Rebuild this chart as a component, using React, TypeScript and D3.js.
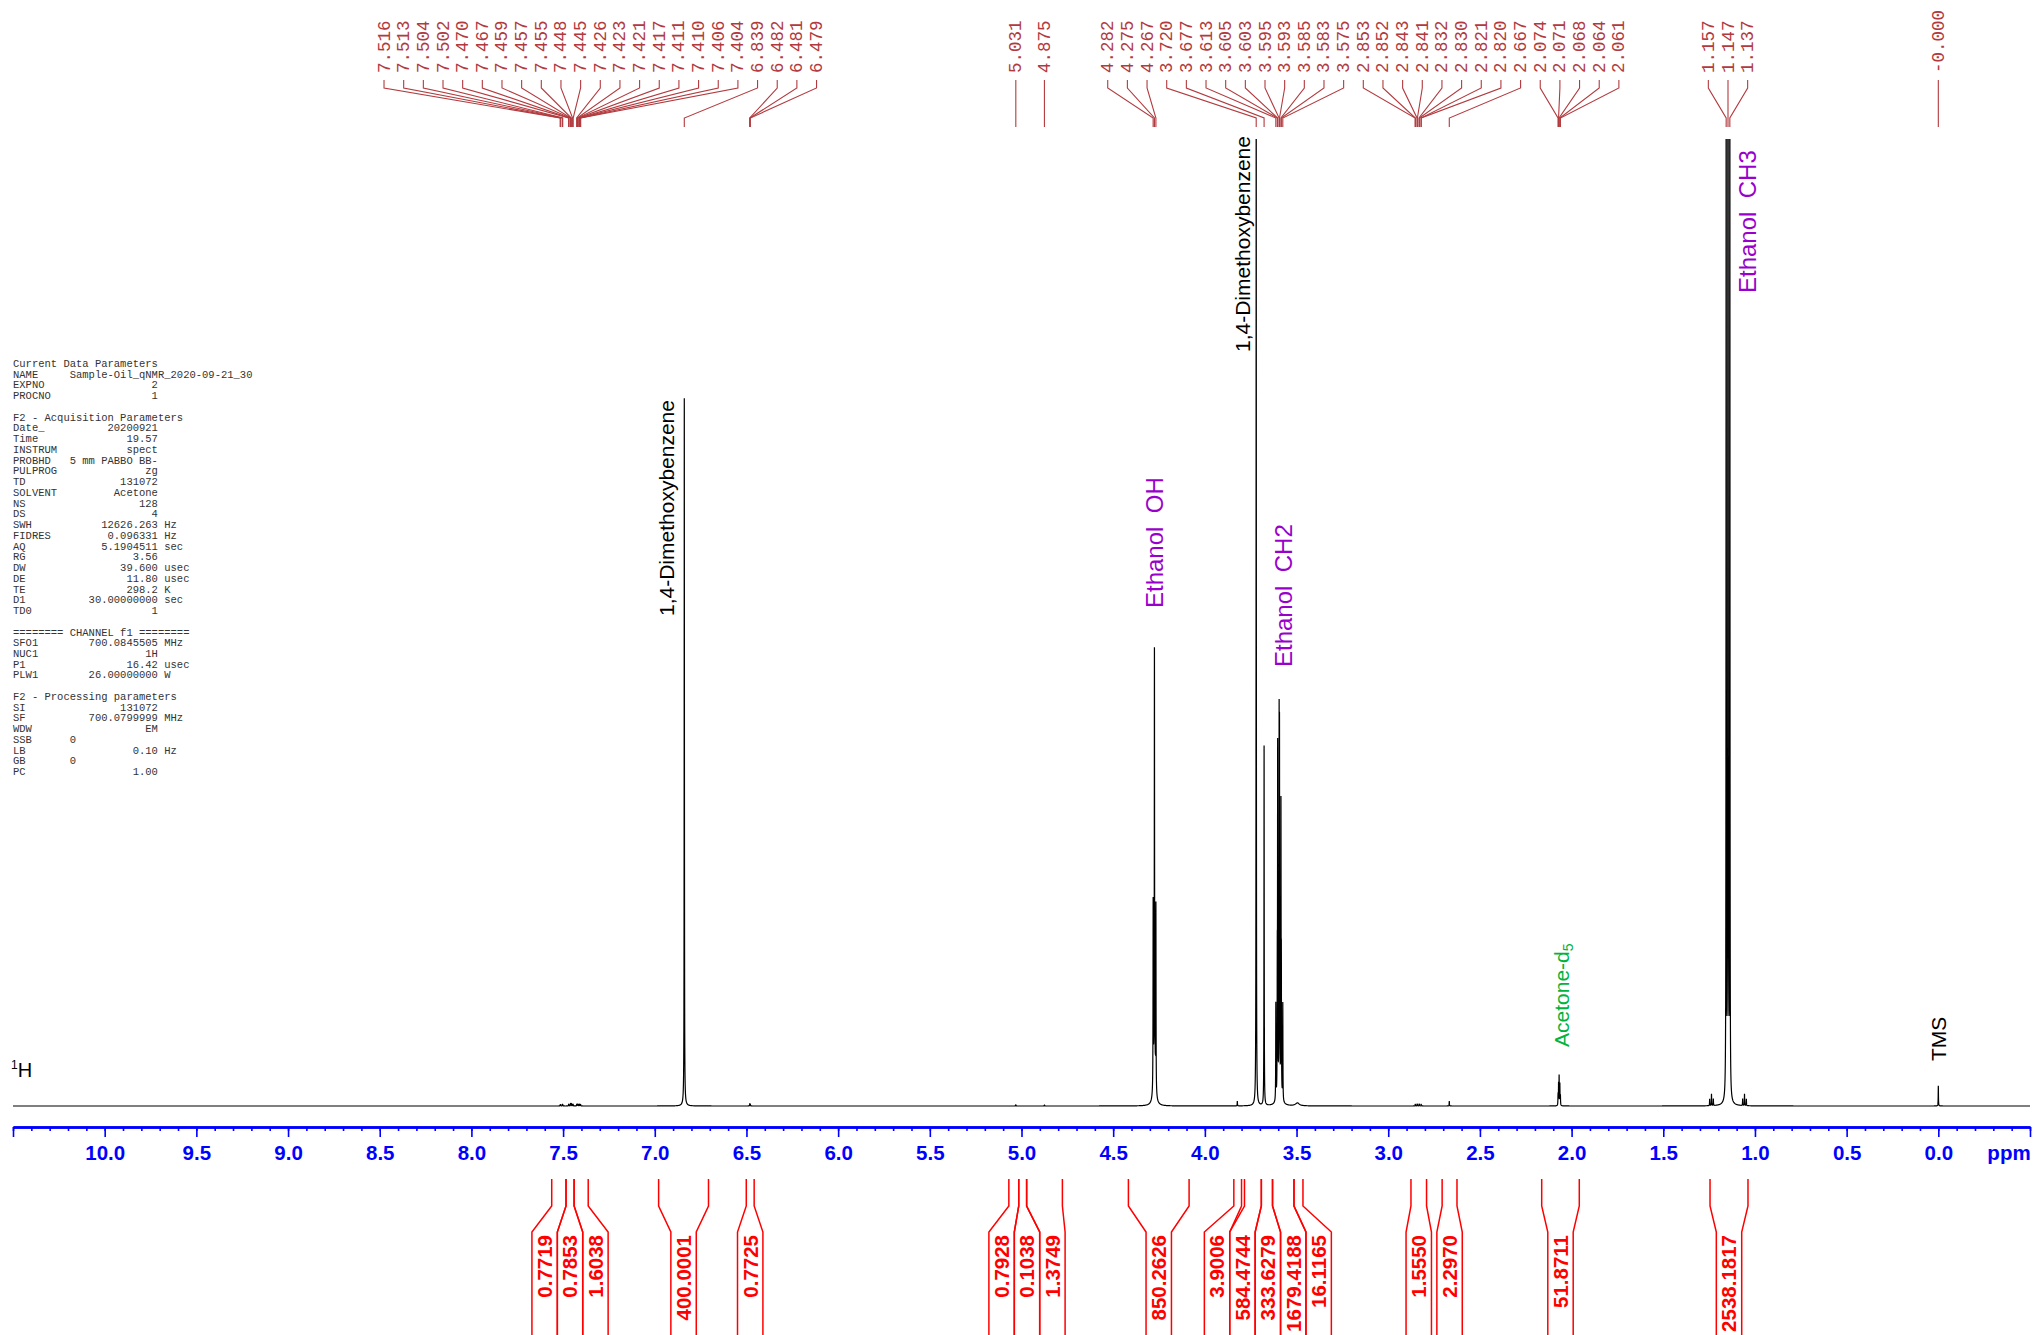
import React, { useEffect, useRef } from 'react';
import * as d3 from 'd3';

const width = 2042;
const height = 1335;

// spectral lines: chemical shift (ppm) and height (% of full scale)
const dmbPpm = [6.839, 3.72];
const dmbHeight = [72.6, 118];

const ethanolOhPpm = [4.282, 4.275, 4.267];
const ethanolOhHeight = [19, 41, 19];

const ethanolCh2Ppm = [3.613, 3.605, 3.603, 3.595, 3.593, 3.585, 3.583, 3.575];
const ethanolCh2Height = [10, 12, 35, 35.5, 34, 29, 12, 10];

const ethanolCh3Ppm = [1.157, 1.147, 1.137];
const ethanolCh3Height = [125, 250, 125];

const acetonePpm = [2.074, 2.071, 2.068, 2.064, 2.061];
const acetoneHeight = [1.0, 2.2, 3.0, 2.2, 1.0];

const otherPpm = [3.677, 0.0];
const otherHeight = [37.2, 2.1];

const minorPpm = [7.516, 7.513, 7.504, 7.502, 7.47, 7.467, 7.459, 7.457, 7.455, 7.448, 7.445,
  7.426, 7.423, 7.421, 7.417, 7.411, 7.41, 7.406, 7.404, 6.482, 6.481, 6.479, 5.031, 4.875,
  2.853, 2.852, 2.843, 2.841, 2.832, 2.83, 2.821, 2.82, 2.667, 3.823, 1.247, 1.237, 1.227,
  1.067, 1.057, 1.047];
const minorHeight = [0.12, 0.12, 0.15, 0.15, 0.15, 0.15, 0.2, 0.2, 0.2, 0.15, 0.15,
  0.15, 0.15, 0.15, 0.15, 0.12, 0.12, 0.12, 0.12, 0.15, 0.15, 0.15, 0.12, 0.1,
  0.12, 0.12, 0.15, 0.15, 0.15, 0.15, 0.12, 0.12, 0.5, 0.5, 0.7, 1.2, 0.7,
  0.7, 1.2, 0.7];

// broad parts (exchange broadened OH, humps)
const broadPpm = [4.275, 3.594, 3.495, 6.839];
const broadHeight = [6, 1.2, 0.3, 0.6];
const broadWidth = [0.005, 0.01, 0.012, 0.004];

// peak picking labels
const peakLabels = ['7.516', '7.513', '7.504', '7.502', '7.470', '7.467', '7.459', '7.457', '7.455',
  '7.448', '7.445', '7.426', '7.423', '7.421', '7.417', '7.411', '7.410', '7.406', '7.404', '6.839',
  '6.482', '6.481', '6.479', '5.031', '4.875', '4.282', '4.275', '4.267', '3.720', '3.677', '3.613',
  '3.605', '3.603', '3.595', '3.593', '3.585', '3.583', '3.575', '2.853', '2.852', '2.843', '2.841',
  '2.832', '2.830', '2.821', '2.820', '2.667', '2.074', '2.071', '2.068', '2.064', '2.061', '1.157',
  '1.147', '1.137', '-0.000'];

// integral regions
const integralFrom = [7.562, 7.484, 7.44, 6.979, 6.501, 5.069, 5.015, 4.972, 4.417, 3.842, 3.784,
  3.692, 3.631, 3.514, 2.876, 2.706, 2.163, 1.245];
const integralTo = [7.484, 7.44, 7.363, 6.707, 6.458, 5.015, 4.972, 4.777, 4.086, 3.8, 3.692,
  3.631, 3.514, 3.465, 2.791, 2.625, 1.958, 1.038];
const integralValue = ['0.7719', '0.7853', '1.6038', '400.0001', '0.7725', '0.7928', '0.1038',
  '1.3749', '850.2626', '3.9006', '584.4744', '333.6279', '1679.4188', '16.1165', '1.5550',
  '2.2970', '51.8711', '2538.1817'];

const majorTicks = d3.range(0, 23).map(i => 10.5 - i * 0.5);
const minorTicks = d3.range(-5, 106).map(i => i / 10);

const r = (label, value, unit = '') => label.padEnd(23 - value.length) + value + (unit ? ' ' + unit : '');
const paramLines = [
  'Current Data Parameters',
  'NAME     Sample-Oil_qNMR_2020-09-21_30',
  r('EXPNO', '2'),
  r('PROCNO', '1'),
  '',
  'F2 - Acquisition Parameters',
  r('Date_', '20200921'),
  r('Time', '19.57'),
  r('INSTRUM', 'spect'),
  r('PROBHD', '5 mm PABBO BB-'),
  r('PULPROG', 'zg'),
  r('TD', '131072'),
  r('SOLVENT', 'Acetone'),
  r('NS', '128'),
  r('DS', '4'),
  r('SWH', '12626.263', 'Hz'),
  r('FIDRES', '0.096331', 'Hz'),
  r('AQ', '5.1904511', 'sec'),
  r('RG', '3.56'),
  r('DW', '39.600', 'usec'),
  r('DE', '11.80', 'usec'),
  r('TE', '298.2', 'K'),
  r('D1', '30.00000000', 'sec'),
  r('TD0', '1'),
  '',
  '======== CHANNEL f1 ========',
  r('SFO1', '700.0845505', 'MHz'),
  r('NUC1', '1H'),
  r('P1', '16.42', 'usec'),
  r('PLW1', '26.00000000', 'W'),
  '',
  'F2 - Processing parameters',
  r('SI', '131072'),
  r('SF', '700.0799999', 'MHz'),
  r('WDW', 'EM'),
  'SSB      0',
  r('LB', '0.10', 'Hz'),
  'GB       0',
  r('PC', '1.00'),
];

// group labels that would overlap, centre each group on the mean of its members
function spread(xs, gap) {
  let clusters = xs.map((v, i) => ({ idx: [i], c: v }));
  let changed = true;
  while (changed) {
    changed = false;
    for (let i = 0; i < clusters.length - 1; i++) {
      const a = clusters[i], b = clusters[i + 1];
      const aEnd = a.c + (a.idx.length - 1) / 2 * gap;
      const bStart = b.c - (b.idx.length - 1) / 2 * gap;
      if (bStart - aEnd < gap) {
        const idx = [...a.idx, ...b.idx];
        clusters.splice(i, 2, { idx, c: d3.mean(idx, k => xs[k]) });
        changed = true;
        break;
      }
    }
  }
  const out = new Array(xs.length);
  clusters.forEach(cl => cl.idx.forEach((k, j) => {
    out[k] = cl.c + (j - (cl.idx.length - 1) / 2) * gap;
  }));
  return out;
}

const sans = '"Liberation Sans", Arial, Helvetica, sans-serif';
const mono = '"Liberation Mono", "Courier New", monospace';

const App = () => {
  const svgRef = useRef(null);

  useEffect(() => {
    document.body.style.margin = '0';
    const svg = d3.select(svgRef.current);
    svg.selectAll('*').remove();

    const x = d3.scaleLinear().domain([10.5, -0.5]).range([13, 2030]);
    const y = d3.scaleLinear().domain([0, 100]).range([1106, 139]);

    const lines = [];
    const add = (ppm, h, w) => ppm.forEach((p, i) => lines.push({ p, h: h[i], w: w ? w[i] : 0.0008 }));
    add(dmbPpm, dmbHeight);
    add(ethanolOhPpm, ethanolOhHeight);
    add(ethanolCh2Ppm, ethanolCh2Height);
    add(ethanolCh3Ppm, ethanolCh3Height);
    add(acetonePpm, acetoneHeight);
    add(otherPpm, otherHeight);
    add(minorPpm, minorHeight);
    add(broadPpm, broadHeight, broadWidth);

    const grid = d3.range(-0.5, 10.5001, 0.002);
    lines.forEach(l => {
      if (l.w < 0.003) for (let d = -0.03; d <= 0.03; d += 0.0001) grid.push(l.p + d);
    });
    const xsSorted = grid.filter(v => v >= -0.5 && v <= 10.5).sort((a, b) => a - b);
    const pts = xsSorted.map(v => [v, d3.sum(lines, l => l.h / (1 + ((v - l.p) / l.w) ** 2))]);

    svg.append('defs').append('clipPath').attr('id', 'plotclip')
      .append('rect').attr('x', 13).attr('y', 139).attr('width', 2017).attr('height', 990);

    svg.append('path')
      .datum(pts)
      .attr('clip-path', 'url(#plotclip)')
      .attr('fill', 'none')
      .attr('stroke', '#000')
      .attr('stroke-width', 1.2)
      .attr('d', d3.line().x(d => x(d[0])).y(d => y(d[1])));

    // axis
    const minorAxis = d3.axisBottom(x).tickValues(minorTicks).tickSize(4).tickSizeOuter(0).tickFormat(() => '');
    const majorAxis = d3.axisBottom(x).tickValues(majorTicks).tickSize(10).tickSizeOuter(0).tickPadding(8)
      .tickFormat(d => (d > 10.25 || d < -0.25) ? '' : d3.format('.1f')(d));
    const gMinor = svg.append('g').attr('transform', 'translate(0,1127)').call(minorAxis);
    const gMajor = svg.append('g').attr('transform', 'translate(0,1127)').call(majorAxis);
    [gMinor, gMajor].forEach(g => {
      g.select('.domain').attr('stroke', '#0000ff').attr('stroke-width', 2.5);
      g.selectAll('.tick line').attr('stroke', '#0000ff').attr('stroke-width', 1.6);
    });
    gMajor.selectAll('.tick text')
      .attr('fill', '#0000ff')
      .style('font-family', sans)
      .style('font-weight', 'bold')
      .style('font-size', '20.5px');
    svg.append('text').attr('x', 2009).attr('y', 1160).attr('text-anchor', 'middle')
      .attr('fill', '#0000ff').style('font-family', sans).style('font-weight', 'bold')
      .style('font-size', '20.5px').text('ppm');

    // peak picking labels
    const peakColor = '#b23a3e';
    const px = peakLabels.map(s => x(+s));
    const lx = spread(px, 19.66);
    const gPeaks = svg.append('g');
    peakLabels.forEach((s, i) => {
      gPeaks.append('path')
        .attr('d', `M${lx[i]},80V88L${px[i]},118V127`)
        .attr('fill', 'none').attr('stroke', peakColor).attr('stroke-width', 1.1);
      gPeaks.append('text')
        .attr('transform', `translate(${lx[i] + 5.5},73) rotate(-90)`)
        .attr('fill', peakColor)
        .style('font-family', mono).style('font-size', '17.5px')
        .text(s);
    });

    // integrals
    const ic = spread(integralFrom.map((f, i) => (x(f) + x(integralTo[i])) / 2), 25.4);
    const gInt = svg.append('g');
    integralValue.forEach((v, i) => {
      const xa = x(integralFrom[i]), xb = x(integralTo[i]), c = ic[i];
      gInt.append('path')
        .attr('d', `M${xa},1179V1206L${c - 12.7},1232V1335M${xb},1179V1206L${c + 12.7},1232V1335`)
        .attr('fill', 'none').attr('stroke', '#ff0000').attr('stroke-width', 1.5);
      gInt.append('text')
        .attr('transform', `translate(${c + 7.4},1235) rotate(-90)`)
        .attr('text-anchor', 'end')
        .attr('fill', '#ff0000')
        .style('font-family', sans).style('font-weight', 'bold').style('font-size', '20.5px')
        .text(v);
    });

    // compound annotations
    const note = (ppm, dx, yBottom, text, color, size) => svg.append('text')
      .attr('transform', `translate(${x(ppm) + dx},${yBottom}) rotate(-90)`)
      .attr('fill', color)
      .attr('xml:space', 'preserve')
      .style('white-space', 'pre')
      .style('font-family', sans).style('font-size', size + 'px')
      .text(text);
    note(6.839, -10, 616, '1,4-Dimethoxybenzene', '#000', 21);
    note(3.72, -6, 352, '1,4-Dimethoxybenzene', '#000', 21);
    note(4.275, 9, 608, 'Ethanol  OH', '#9900cc', 24);
    note(3.594, 13, 667, 'Ethanol  CH2', '#9900cc', 24);
    note(1.147, 28, 293, 'Ethanol  CH3', '#9900cc', 24);
    note(0, 7.5, 1061, 'TMS', '#000', 21);
    const ac = note(2.068, 10, 1047, 'Acetone-d', '#00b33c', 21);
    ac.append('tspan').attr('dy', '0.3em').style('font-size', '14px').text('5');

    const nuc = svg.append('text').attr('x', 11).attr('y', 1077)
      .style('font-family', sans).attr('fill', '#000');
    nuc.append('tspan').style('font-size', '12px').attr('dy', -8).text('1');
    nuc.append('tspan').style('font-size', '20px').attr('dy', 8).text('H');

    // acquisition / processing parameters
    const gPar = svg.append('g');
    paramLines.forEach((s, i) => {
      gPar.append('text')
        .attr('x', 13).attr('y', 367 + i * 10.74)
        .attr('xml:space', 'preserve')
        .style('white-space', 'pre')
        .attr('fill', '#333')
        .style('font-family', mono).style('font-size', '10.5px')
        .text(s);
    });
  }, []);

  return (
    <svg ref={svgRef} width={width} height={height} style={{ display: 'block', background: '#fff' }}></svg>
  );
};

export default App;
